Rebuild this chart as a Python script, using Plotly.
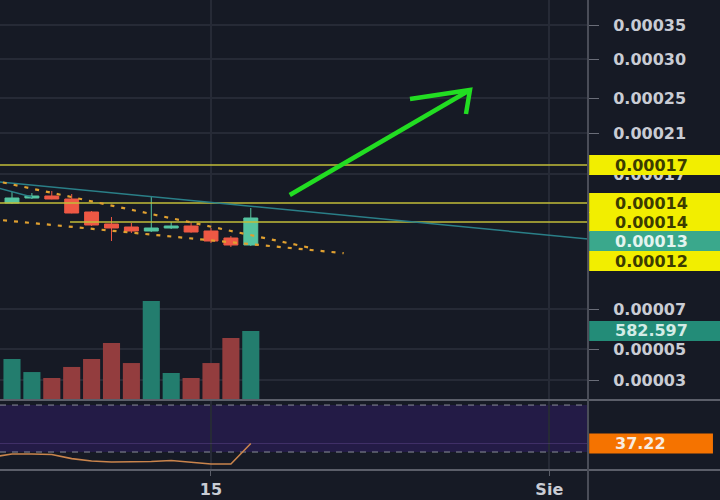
import plotly.graph_objects as go

# ---------------- data ----------------
dates = ["2021-07-05", "2021-07-06", "2021-07-07", "2021-07-08", "2021-07-09",
         "2021-07-10", "2021-07-11", "2021-07-12", "2021-07-13", "2021-07-14",
         "2021-07-15", "2021-07-16", "2021-07-17"]
opens = [0.0001548, 0.0001578, 0.0001590, 0.0001572, 0.0001494, 0.0001422, 0.0001404,
         0.0001380, 0.0001398, 0.0001410, 0.0001380, 0.0001338, 0.0001296]
highs = [0.0001614, 0.0001608, 0.0001620, 0.0001602, 0.0001500, 0.0001464, 0.0001428,
         0.0001590, 0.0001434, 0.0001434, 0.0001398, 0.0001350, 0.0001518]
lows = [0.0001542, 0.0001572, 0.0001570, 0.0001486, 0.0001410, 0.0001320, 0.0001368,
        0.0001374, 0.0001392, 0.0001370, 0.0001308, 0.0001284, 0.0001290]
closes = [0.0001578, 0.0001590, 0.0001572, 0.0001488, 0.0001416, 0.0001398, 0.0001380,
          0.0001398, 0.0001410, 0.0001374, 0.0001320, 0.0001296, 0.0001458]
volume = [346, 236, 186, 279, 346, 481, 312, 836, 228, 186, 312, 523, 582.597]

rsi_dates = ["2021-07-04"] + dates
rsi_values = [25.7, 28.3, 28.3, 27.9, 24.4, 22.3, 21.5, 21.5, 21.9, 22.8, 21.1, 19.8, 19.8, 37.22]

# horizontal levels (yellow)
level_full = [0.0001776, 0.0001548]
level_partial = 0.0001434
level_partial_start = "2021-07-07 22:00"

# trend lines
teal_x = ["2021-07-04", "2021-08-03"]
teal_y = [0.0001679, 0.0001332]
teal2_x = ["2021-07-04", "2021-07-06"]
teal2_y = [0.0001647, 0.0001584]
wedge_up_x = ["2021-07-04", "2021-07-20"]
wedge_up_y = [0.0001685, 0.0001279]
wedge_lo_x = ["2021-07-04", "2021-07-21 16:00"]
wedge_lo_y = [0.0001451, 0.0001247]

# green arrow (tail, head, barbs)
arrow_x = ["2021-07-18 23:00", "2021-07-28 00:20", None,
           "2021-07-25 00:00", "2021-07-28 00:20", "2021-07-27 19:30"]
arrow_y = [0.0001596, 0.0002226, None, 0.0002172, 0.0002226, 0.0002082]

# price axis ticks
tick_vals = [0.0002616, 0.0002412, 0.0002178, 0.0001968, 0.0001722,
             0.0000912, 0.0000672, 0.0000486]
tick_text = ["0.00035", "0.00030", "0.00025", "0.00021", "0.00017",
             "0.00007", "0.00005", "0.00003"]

# right-hand value labels
label_vals = [0.0001776, 0.0001548, 0.0001434, 0.0001320, 0.0001200]
label_text = ["0.00017", "0.00014", "0.00014", "0.00013", "0.00012"]
label_kind = ["y", "y", "y", "t", "y"]
vol_label = 582.597
rsi_label = 37.22

x_ticks = ["2021-07-15", "2021-08-01"]
x_tick_text = ["15", "Sie"]
x_range = ["2021-07-04 09:32", "2021-08-02 22:41"]

# ---------------- style ----------------
BG = "#161a25"
GRID = "#262a36"
TEAL = "#55c4a0"
RED = "#ee5844"
VTEAL = "#237d6e"
VRED = "#933d3e"
YEL = "#c2bd38"
AXIS_TXT = "#c9ccd4"
FONT = "DejaVu Sans"
PANE_SPLIT = 70 / 470
PRICE_PER_PX = 0.0000006      # price pane: 400 px span
VOL_PER_PX = 3377 / 400
RSI_PER_PX = (74.3 - 14.7) / 70

fig = go.Figure()

vol_colors = [VTEAL if c >= o else VRED for o, c in zip(opens, closes)]
fig.add_trace(go.Bar(x=dates, y=volume, marker=dict(color=vol_colors, line=dict(width=0)),
                     width=0.86 * 86400000, xaxis="x", yaxis="y3", hoverinfo="skip"))

for lv in level_full:
    fig.add_trace(go.Scatter(x=x_range, y=[lv, lv], mode="lines",
                             line=dict(color=YEL, width=1.6), xaxis="x", yaxis="y"))
fig.add_trace(go.Scatter(x=[level_partial_start, x_range[1]], y=[level_partial, level_partial],
                         mode="lines", line=dict(color=YEL, width=1.6), xaxis="x", yaxis="y"))

fig.add_trace(go.Scatter(x=teal_x, y=teal_y, mode="lines",
                         line=dict(color="#2a7f88", width=1.5), xaxis="x", yaxis="y"))
fig.add_trace(go.Scatter(x=teal2_x, y=teal2_y, mode="lines",
                         line=dict(color="#2a7f88", width=1.5), xaxis="x", yaxis="y"))

fig.add_trace(go.Candlestick(
    x=dates, open=opens, high=highs, low=lows, close=closes,
    increasing=dict(line=dict(color=TEAL, width=1), fillcolor=TEAL),
    decreasing=dict(line=dict(color=RED, width=1), fillcolor=RED),
    whiskerwidth=0, xaxis="x", yaxis="y"))

for wx, wy in ((wedge_up_x, wedge_up_y), (wedge_lo_x, wedge_lo_y)):
    fig.add_trace(go.Scatter(x=wx, y=wy, mode="lines",
                             line=dict(color="#e0a030", width=2.2, dash="4px,7px"),
                             xaxis="x", yaxis="y"))

fig.add_trace(go.Scatter(x=arrow_x, y=arrow_y, mode="lines",
                         line=dict(color="#22dd22", width=4.5), xaxis="x", yaxis="y"))

# RSI reference lines as traces
for lvl, col, dsh in ((70, "#8a8d99", "6px,6px"), (30, "#8a8d99", "6px,6px"),
                      (rsi_label, "rgba(120,90,170,0.35)", "solid")):
    fig.add_trace(go.Scatter(x=x_range, y=[lvl, lvl], mode="lines",
                             line=dict(color=col, width=1, dash=dsh),
                             xaxis="x2", yaxis="y2"))

fig.add_trace(go.Scatter(x=rsi_dates, y=rsi_values, mode="lines",
                         line=dict(color="#c9844c", width=1.6), xaxis="x2", yaxis="y2"))

shapes = [
    dict(type="rect", xref="x2 domain", x0=0, x1=1, yref="y2", y0=30, y1=70,
         fillcolor="#231b46", line=dict(width=0), layer="below"),
    dict(type="line", xref="paper", x0=0, x1=1.23, yref="paper", y0=PANE_SPLIT, y1=PANE_SPLIT,
         line=dict(color="#5b5e69", width=2), layer="above"),
    dict(type="line", xref="paper", x0=0, x1=1.23, yref="paper", y0=0, y1=0,
         line=dict(color="#5b5e69", width=2), layer="above"),
    dict(type="line", xref="paper", x0=1, x1=1, yref="paper", y0=-0.08, y1=1,
         line=dict(color="#4a4d58", width=2), layer="above"),
]

annotations = []
lab_font = dict(family=FONT, size=16, weight="bold")


def add_label(yref, v, half, text, bg, fc, x1=1.25):
    shapes.append(dict(type="rect", xref="paper", x0=1.002, x1=x1, yref=yref,
                       y0=v - half, y1=v + half,
                       fillcolor=bg, line=dict(width=0), layer="above"))
    annotations.append(dict(xref="paper", x=613 / 588, xanchor="left", yref=yref, y=v,
                            text=text, showarrow=False, font=dict(lab_font, color=fc)))


for v, t, k in zip(label_vals, label_text, label_kind):
    if k == "y":
        add_label("y", v, 10 * PRICE_PER_PX, t, "#f2ee00", "#3c3c00")
    else:
        add_label("y", v, 10 * PRICE_PER_PX, t, "#3aa88c", "#e4f4ef")
add_label("y3", vol_label, 10 * VOL_PER_PX, f"{vol_label:.3f}", "#238c78", "#d4ece6")
add_label("y2", rsi_label, 10 * RSI_PER_PX, f"{rsi_label:.2f}", "#f57300", "#f8ece0", x1=1.2125)

fig.update_layout(
    width=720, height=500,
    margin=dict(l=0, r=132, t=0, b=30),
    paper_bgcolor=BG, plot_bgcolor=BG,
    showlegend=False,
    boxgap=0.3, boxgroupgap=0,
    xaxis=dict(domain=[0, 1], anchor="y", type="date", range=x_range,
               tickvals=x_ticks, ticktext=x_tick_text, showticklabels=False,
               showgrid=True, gridcolor=GRID, gridwidth=1.5, zeroline=False,
               showline=False, ticks="", rangeslider=dict(visible=False)),
    xaxis2=dict(domain=[0, 1], anchor="y2", type="date", matches="x", range=x_range,
                tickvals=x_ticks, ticktext=x_tick_text,
                tickfont=dict(family=FONT, size=16, color=AXIS_TXT, weight="bold"),
                showgrid=True, gridcolor=GRID, gridwidth=1.5, zeroline=False,
                showline=False, ticks="outside", ticklen=5, tickcolor="#5b5e69"),
    yaxis=dict(domain=[PANE_SPLIT, 1], anchor="x", side="right",
               range=[0.0000366, 0.0002766], tickvals=tick_vals, ticktext=tick_text,
               tickfont=dict(family=FONT, size=16, color=AXIS_TXT, weight="bold"),
               ticks="outside", ticklen=10, tickcolor="#6a6d78", ticklabelstandoff=11,
               showgrid=True, gridcolor=GRID, gridwidth=1.5, zeroline=False, showline=False),
    yaxis3=dict(overlaying="y", range=[0, 3377], visible=False),
    yaxis2=dict(domain=[0, PANE_SPLIT], anchor="x2", side="right", range=[14.7, 74.3],
                showticklabels=False, showgrid=False, zeroline=False, showline=False),
    shapes=shapes,
    annotations=annotations,
)

fig.write_html("out.html")
